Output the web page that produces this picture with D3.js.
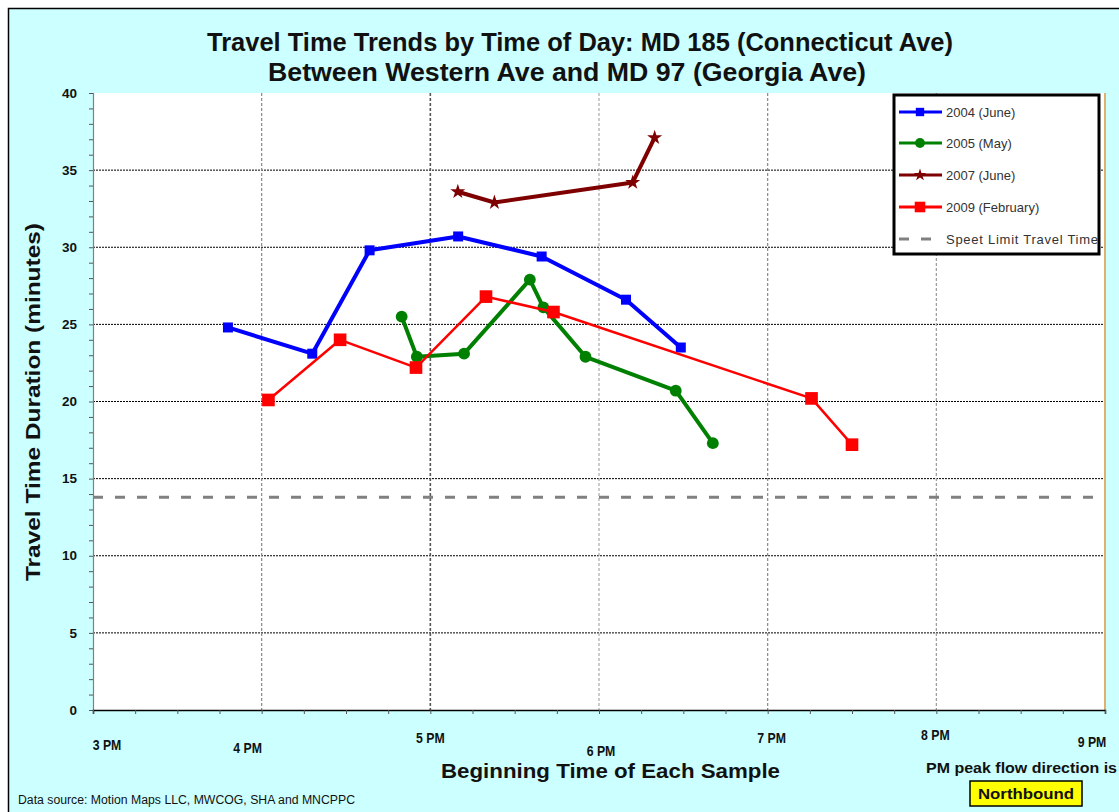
<!DOCTYPE html>
<html lang="en">
<head>
<meta charset="utf-8">
<title>Travel Time Trends by Time of Day</title>
<script src="https://d3js.org/d3.v7.min.js"></script>
<style>
  body { margin: 0; background: #fff; }
  svg text { font-family: "Liberation Sans", Arial, sans-serif; }
</style>
</head>
<body>
<div id="my_dataviz"></div>
<script>

// ---- data ----
// times are hours of the day (15 = 3 PM)
var hourTicks = [15, 16, 17, 18, 19, 20, 21];
var hourLabels = ["3 PM", "4 PM", "5 PM", "6 PM", "7 PM", "8 PM", "9 PM"];
var yTicks = [0, 5, 10, 15, 20, 25, 30, 35, 40];

var t2004 = [15.80, 16.30, 16.64, 17.165, 17.66, 18.16, 18.485];
var v2004 = [24.8, 23.1, 29.8, 30.7, 29.4, 26.6, 23.5];

var t2005 = [16.83, 16.92, 17.20, 17.59, 17.67, 17.92, 18.455, 18.675];
var v2005 = [25.5, 22.9, 23.1, 27.9, 26.1, 22.9, 20.7, 17.3];

var t2007 = [17.163, 17.38, 18.20, 18.33];
var v2007 = [33.6, 32.9, 34.2, 37.1];

var t2009 = [16.04, 16.465, 16.915, 17.33, 17.73, 19.26, 19.50];
var v2009 = [20.1, 24.0, 22.2, 26.8, 25.8, 20.2, 17.2];

var seriesNames = ["2004 (June)", "2005 (May)", "2007 (June)", "2009 (February)"];
var speedLimit = 13.8;
var speedLimitName = "Speet Limit Travel Time";

// ---- layout ----
var W = 1119, H = 812;
var plot = {left: 93, top: 93, right: 1105, bottom: 710};

var svg = d3.select("#my_dataviz")
  .append("svg")
  .attr("width", W)
  .attr("height", H);

// cyan chart area with black frame on top/left
svg.append("rect")
  .attr("x", 8).attr("y", 8)
  .attr("width", W - 8).attr("height", H - 8)
  .attr("fill", "#ccffff");
svg.append("path")
  .attr("d", "M8.5," + H + "V8.5H" + W)
  .attr("fill", "none")
  .attr("stroke", "#000")
  .attr("stroke-width", 1.5);

// plot area
svg.append("rect")
  .attr("x", plot.left).attr("y", plot.top)
  .attr("width", plot.right - plot.left)
  .attr("height", plot.bottom - plot.top)
  .attr("fill", "#fff");

var x = d3.scaleLinear().domain([15, 21]).range([plot.left, plot.right]);
var y = d3.scaleLinear().domain([0, 40]).range([plot.bottom, plot.top]);

// horizontal gridlines (dotted)
svg.append("g")
  .selectAll("line")
  .data(yTicks.filter(function(d) { return d > 0 && d < 40; }))
  .enter()
  .append("line")
    .attr("x1", plot.left).attr("x2", plot.right)
    .attr("y1", function(d) { return y(d); })
    .attr("y2", function(d) { return y(d); })
    .attr("stroke", "#000")
    .attr("stroke-width", 1)
    .attr("stroke-dasharray", "2,1");

// vertical gridlines (dashed gray, 5 PM darker)
var vColors = {16: "#888", 17: "#555", 18: "#aaa", 19: "#888", 20: "#999"};
svg.append("g")
  .selectAll("line")
  .data(hourTicks.filter(function(d) { return d > 15 && d < 21; }))
  .enter()
  .append("line")
    .attr("x1", function(d) { return x(d); })
    .attr("x2", function(d) { return x(d); })
    .attr("y1", plot.top).attr("y2", plot.bottom)
    .attr("stroke", function(d) { return vColors[d]; })
    .attr("stroke-width", function(d) { return d === 17 ? 1.6 : 1.2; })
    .attr("stroke-dasharray", "3,2");

// right edge of plot area
svg.append("line")
  .attr("x1", plot.right).attr("x2", plot.right)
  .attr("y1", plot.top).attr("y2", plot.bottom)
  .attr("stroke", "#e0b070")
  .attr("stroke-width", 2);

// speed limit line
svg.append("line")
  .attr("x1", plot.left).attr("x2", plot.right)
  .attr("y1", y(speedLimit)).attr("y2", y(speedLimit))
  .attr("stroke", "#808080")
  .attr("stroke-width", 3)
  .attr("stroke-dasharray", "10,12");

// Y axis
var yAxis = svg.append("g")
  .attr("transform", "translate(" + plot.left + ",0)")
  .call(d3.axisLeft(y).tickValues(d3.range(0, 41, 1)).tickSize(4).tickFormat(""));
yAxis.select(".domain").attr("stroke", "#808080").attr("stroke-width", 1.2);
yAxis.selectAll(".tick line").attr("stroke", "#555");

svg.append("g")
  .selectAll("text")
  .data(yTicks)
  .enter()
  .append("text")
    .attr("x", 77)
    .attr("y", function(d) { return y(d); })
    .attr("dy", "0.35em")
    .attr("text-anchor", "end")
    .attr("font-size", 13.5)
    .attr("font-weight", "bold")
    .attr("fill", "#111")
    .text(function(d) { return d; });

// X axis
var xAxis = svg.append("g")
  .attr("transform", "translate(0," + plot.bottom + ")")
  .call(d3.axisBottom(x).tickValues(d3.range(15, 21.01, 0.25)).tickSize(4).tickFormat(""));
xAxis.select(".domain").attr("stroke", "#000").attr("stroke-width", 1.5);
xAxis.selectAll(".tick line").attr("stroke", "#555");

// tick labels sit at slightly uneven heights in the original
var labelDx = [14, -14, 0, 2, 4, -1, -13];
var labelY = [745, 748, 738, 751, 738, 735, 742];
svg.append("g")
  .selectAll("text")
  .data(hourTicks)
  .enter()
  .append("text")
    .attr("x", function(d, i) { return x(d) + labelDx[i]; })
    .attr("y", function(d, i) { return labelY[i]; })
    .attr("dy", "0.35em")
    .attr("text-anchor", "middle")
    .attr("font-size", 15)
    .attr("font-weight", "bold")
    .attr("fill", "#111")
    .attr("transform", function(d, i) {
      var cx = x(d) + labelDx[i];
      return "translate(" + cx + ",0) scale(0.82,1) translate(" + (-cx) + ",0)";
    })
    .text(function(d, i) { return hourLabels[i]; });

// ---- series ----
function pairs(t, v) { return t.map(function(d, i) { return [d, v[i]]; }); }
var series = [
  {name: seriesNames[0], data: pairs(t2004, v2004), color: "#0000ff", width: 4,   symbol: d3.symbolSquare, size: 100},
  {name: seriesNames[1], data: pairs(t2005, v2005), color: "#008000", width: 4,   symbol: d3.symbolCircle, size: 110},
  {name: seriesNames[2], data: pairs(t2007, v2007), color: "#7f0000", width: 4,   symbol: d3.symbolStar,   size: 70},
  {name: seriesNames[3], data: pairs(t2009, v2009), color: "#ff0000", width: 2.5, symbol: d3.symbolSquare, size: 160}
];

var line = d3.line()
  .x(function(d) { return x(d[0]); })
  .y(function(d) { return y(d[1]); });

series.forEach(function(s) {
  var g = svg.append("g");
  g.append("path")
    .datum(s.data)
    .attr("d", line)
    .attr("fill", "none")
    .attr("stroke", s.color)
    .attr("stroke-width", s.width)
    .attr("stroke-linejoin", "round");
  g.selectAll("path.pt")
    .data(s.data)
    .enter()
    .append("path")
      .attr("class", "pt")
      .attr("transform", function(d) { return "translate(" + x(d[0]) + "," + y(d[1]) + ")"; })
      .attr("d", d3.symbol().type(s.symbol).size(s.size))
      .attr("fill", s.color);
});

// ---- legend ----
var lg = svg.append("g");
lg.append("rect")
  .attr("x", 894).attr("y", 95)
  .attr("width", 205).attr("height", 159)
  .attr("fill", "#fff")
  .attr("stroke", "#000")
  .attr("stroke-width", 3);

var rowY = [112, 143, 175, 207, 239];
series.forEach(function(s, i) {
  lg.append("line")
    .attr("x1", 899).attr("x2", 942)
    .attr("y1", rowY[i]).attr("y2", rowY[i])
    .attr("stroke", s.color)
    .attr("stroke-width", 3);
  lg.append("path")
    .attr("transform", "translate(920," + rowY[i] + ")")
    .attr("d", d3.symbol().type(s.symbol).size(s.size * 0.7))
    .attr("fill", s.color);
  lg.append("text")
    .attr("x", 946).attr("y", rowY[i])
    .attr("dy", "0.35em")
    .attr("font-size", 13)
    .attr("fill", "#333")
    .attr("font-family", "Lato, 'Open Sans', sans-serif")
    .text(s.name);
});
lg.append("line")
  .attr("x1", 899).attr("x2", 942)
  .attr("y1", rowY[4]).attr("y2", rowY[4])
  .attr("stroke", "#808080")
  .attr("stroke-width", 3)
  .attr("stroke-dasharray", "10,12");
lg.append("text")
  .attr("x", 946).attr("y", rowY[4])
  .attr("dy", "0.35em")
  .attr("font-size", 13)
  .attr("fill", "#333")
  .attr("font-family", "Lato, 'Open Sans', sans-serif")
  .attr("textLength", 152)
  .text(speedLimitName);

// ---- titles ----
svg.append("text")
  .attr("x", 207).attr("y", 51)
  .attr("font-size", 26).attr("font-weight", "bold")
  .attr("textLength", 746).attr("lengthAdjust", "spacingAndGlyphs")
  .attr("fill", "#111")
  .text("Travel Time Trends by Time of Day: MD 185 (Connecticut Ave)");
svg.append("text")
  .attr("x", 268).attr("y", 81)
  .attr("font-size", 26).attr("font-weight", "bold")
  .attr("textLength", 598).attr("lengthAdjust", "spacingAndGlyphs")
  .attr("fill", "#111")
  .text("Between Western Ave and MD 97 (Georgia Ave)");

svg.append("text")
  .attr("transform", "translate(40,402) rotate(-90)")
  .attr("text-anchor", "middle")
  .attr("font-size", 20).attr("font-weight", "bold")
  .attr("textLength", 358).attr("lengthAdjust", "spacingAndGlyphs")
  .attr("fill", "#111")
  .text("Travel Time Duration (minutes)");

svg.append("text")
  .attr("x", 441).attr("y", 778)
  .attr("font-size", 21).attr("font-weight", "bold")
  .attr("textLength", 339).attr("lengthAdjust", "spacingAndGlyphs")
  .attr("fill", "#111")
  .text("Beginning Time of Each Sample");

svg.append("text")
  .attr("x", 18).attr("y", 804)
  .attr("font-size", 12)
  .attr("textLength", 337).attr("lengthAdjust", "spacingAndGlyphs")
  .attr("fill", "#111")
  .text("Data source: Motion Maps LLC, MWCOG, SHA and MNCPPC");

svg.append("text")
  .attr("x", 926).attr("y", 773)
  .attr("font-size", 15).attr("font-weight", "bold")
  .attr("textLength", 191).attr("lengthAdjust", "spacingAndGlyphs")
  .attr("fill", "#111")
  .text("PM peak flow direction is");

svg.append("rect")
  .attr("x", 970).attr("y", 781)
  .attr("width", 112).attr("height", 25)
  .attr("fill", "#ffff00")
  .attr("stroke", "#000")
  .attr("stroke-width", 1.5);
svg.append("text")
  .attr("x", 1026).attr("y", 793.5)
  .attr("dy", "0.35em")
  .attr("text-anchor", "middle")
  .attr("font-size", 15).attr("font-weight", "bold")
  .attr("textLength", 96).attr("lengthAdjust", "spacingAndGlyphs")
  .attr("fill", "#111")
  .text("Northbound");

</script>
</body>
</html>
